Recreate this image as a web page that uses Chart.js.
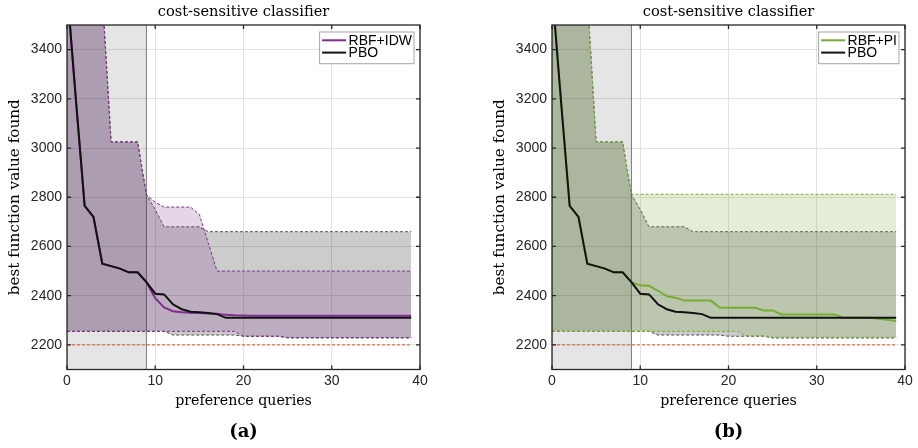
<!DOCTYPE html>
<html>
<head>
<meta charset="utf-8">
<script src="https://cdn.jsdelivr.net/npm/chart.js@4.4.1/dist/chart.umd.min.js"></script>
<style>
  html, body { margin: 0; padding: 0; background: #fff; }
  #wrap { position: relative; width: 918px; height: 448px; overflow: hidden; }
  canvas { position: absolute; top: 0; }
</style>
</head>
<body>
<div id="wrap">
  <canvas id="chartA" width="485" height="448" style="left:0px"></canvas>
  <canvas id="chartB" width="433" height="448" style="left:485px"></canvas>
</div>
<script>
// preference queries (x)
const queries = [0, 1, 2, 3, 4, 5, 6, 7, 8, 9, 10, 11, 12, 13, 14, 15, 16, 17, 18, 19,
                 20, 21, 22, 23, 24, 25, 26, 27, 28, 29, 30, 31, 32, 33, 34, 35, 36, 37, 38, 39];
const xTicks = [0, 10, 20, 30, 40];
const yTicks = [2200, 2400, 2600, 2800, 3000, 3200, 3400];
const optimum = 2200;
const initQueries = 9;

// PBO (same in both panels)
const pboMean = [3650, 3200, 2765, 2720, 2530, 2520, 2510, 2495, 2495, 2455,
                 2408, 2405, 2365, 2345, 2335, 2333, 2330, 2325, 2310, 2310,
                 2310, 2310, 2310, 2310, 2310, 2310, 2310, 2310, 2310, 2310,
                 2310, 2310, 2310, 2310, 2310, 2310, 2310, 2310, 2310, 2310];
const pboUpper = [4200, 4200, 4200, 4200, 3620, 3025, 3025, 3025, 3025, 2810,
                  2750, 2680, 2680, 2680, 2680, 2680, 2660, 2660, 2660, 2660,
                  2660, 2660, 2660, 2660, 2660, 2660, 2660, 2660, 2660, 2660,
                  2660, 2660, 2660, 2660, 2660, 2660, 2660, 2660, 2660, 2660];
const pboLower = [2255, 2255, 2255, 2255, 2255, 2255, 2255, 2255, 2255, 2255,
                  2255, 2255, 2240, 2240, 2240, 2240, 2240, 2240, 2240, 2240,
                  2235, 2235, 2235, 2235, 2235, 2228, 2228, 2228, 2228, 2228,
                  2228, 2228, 2228, 2228, 2228, 2228, 2228, 2228, 2228, 2228];

// RBF+IDW (panel a)
const idwMean = [3650, 3200, 2765, 2720, 2530, 2520, 2510, 2495, 2495, 2455,
                 2390, 2352, 2337, 2333, 2331, 2330, 2328, 2327, 2322, 2320,
                 2319, 2318, 2318, 2318, 2318, 2318, 2318, 2318, 2318, 2318,
                 2318, 2318, 2318, 2318, 2318, 2318, 2318, 2318, 2318, 2318];
const idwUpper = [4200, 4200, 4200, 4200, 3620, 3025, 3025, 3025, 3025, 2810,
                  2780, 2760, 2760, 2760, 2760, 2730, 2615, 2500, 2500, 2500,
                  2500, 2500, 2500, 2500, 2500, 2500, 2500, 2500, 2500, 2500,
                  2500, 2500, 2500, 2500, 2500, 2500, 2500, 2500, 2500, 2500];
const idwLower = [2255, 2255, 2255, 2255, 2255, 2255, 2255, 2255, 2255, 2255,
                  2255, 2255, 2255, 2255, 2255, 2255, 2255, 2255, 2255, 2255,
                  2235, 2235, 2235, 2235, 2235, 2230, 2230, 2230, 2230, 2230,
                  2230, 2230, 2230, 2230, 2230, 2230, 2230, 2230, 2230, 2230];

// RBF+PI (panel b)
const piMean = [3650, 3200, 2765, 2720, 2530, 2520, 2510, 2495, 2495, 2455,
                2442, 2440, 2420, 2398, 2392, 2380, 2380, 2380, 2380, 2352,
                2351, 2351, 2351, 2351, 2340, 2340, 2324, 2324, 2324, 2324,
                2324, 2324, 2324, 2310, 2310, 2310, 2310, 2306, 2302, 2297];
const piUpper = [4200, 4200, 4200, 4200, 3620, 3025, 3025, 3025, 3025, 2812,
                 2812, 2812, 2812, 2812, 2812, 2812, 2812, 2812, 2812, 2812,
                 2812, 2812, 2812, 2812, 2812, 2812, 2812, 2812, 2812, 2812,
                 2812, 2812, 2812, 2812, 2812, 2812, 2812, 2812, 2812, 2812];
const piLower = [2255, 2255, 2255, 2255, 2255, 2255, 2255, 2255, 2255, 2255,
                 2255, 2255, 2255, 2255, 2255, 2255, 2255, 2255, 2255, 2255,
                 2255, 2255, 2237, 2237, 2237, 2231, 2231, 2231, 2231, 2231,
                 2231, 2231, 2231, 2231, 2231, 2231, 2231, 2231, 2231, 2231];

const SERIF = "'DejaVu Serif', serif";
const SANS = "'Liberation Sans', Arial, sans-serif";

function pts(arr) {
    return queries.map((q, i) => ({ x: q, y: arr[i] }));
}

// box around the axes with inside ticks, matlab style
const framePlugin = {
    id: 'frame',
    afterDatasetsDraw(chart) {
        const { ctx, chartArea: a, scales } = chart;
        ctx.save();
        ctx.strokeStyle = '#262626';
        ctx.lineWidth = 1.3;
        ctx.setLineDash([]);
        ctx.strokeRect(a.left, a.top, a.right - a.left, a.bottom - a.top);
        ctx.beginPath();
        xTicks.forEach(v => {
            const px = scales.x.getPixelForValue(v);
            ctx.moveTo(px, a.bottom); ctx.lineTo(px, a.bottom - 4);
            ctx.moveTo(px, a.top); ctx.lineTo(px, a.top + 4);
        });
        yTicks.forEach(v => {
            const py = scales.y.getPixelForValue(v);
            ctx.moveTo(a.left, py); ctx.lineTo(a.left + 4, py);
            ctx.moveTo(a.right, py); ctx.lineTo(a.right - 4, py);
        });
        ctx.stroke();
        ctx.restore();
    }
};

// legend box in the top right corner of the plot
const boxLegendPlugin = {
    id: 'boxLegend',
    afterDraw(chart, args, opts) {
        const { ctx, chartArea: a } = chart;
        const items = opts.items.map(i => chart.data.datasets[i]);
        ctx.save();
        ctx.font = '14px ' + SANS;
        const textW = Math.max(...items.map(d => ctx.measureText(d.label).width));
        const w = 2.5 + 24 + 2.5 + textW + 2;
        const h = 31.7;
        const left = a.right - 6 - w;
        const top = a.top + 7;
        ctx.fillStyle = '#fff';
        ctx.fillRect(left, top, w, h);
        ctx.strokeStyle = '#a6a6a6';
        ctx.lineWidth = 1;
        ctx.strokeRect(left, top, w, h);
        items.forEach((d, k) => {
            const cy = top + 8.3 + k * 12.3;
            ctx.strokeStyle = d.borderColor;
            ctx.lineWidth = 2;
            ctx.beginPath();
            ctx.moveTo(left + 2.5, cy);
            ctx.lineTo(left + 26.5, cy);
            ctx.stroke();
            ctx.fillStyle = '#000';
            ctx.textBaseline = 'middle';
            ctx.fillText(d.label, left + 29, cy + 0.5);
        });
        ctx.restore();
    }
};

function buildChart(id, opts) {
    const datasets = [
        { label: 'PBO', data: pts(pboMean), borderColor: '#111111', borderWidth: 2 },
        { label: opts.name, data: pts(opts.mean), borderColor: opts.color, borderWidth: 2 },
        {
            label: 'optimum', data: [{ x: 0, y: optimum }, { x: 39, y: optimum }],
            borderColor: 'rgb(217,83,25)', borderWidth: 1, borderDash: [3, 2]
        },
        {
            label: opts.name + ' max', data: pts(opts.upper), borderColor: opts.color,
            borderWidth: 1, borderDash: [3, 2], fill: '+1', backgroundColor: opts.fill
        },
        {
            label: opts.name + ' min', data: pts(opts.lower), borderColor: opts.color,
            borderWidth: 1, borderDash: [3, 2]
        },
        {
            label: 'PBO max', data: pts(pboUpper), borderColor: 'rgba(30,30,30,0.75)',
            borderWidth: 1, borderDash: [3, 2], fill: '+1', backgroundColor: 'rgba(0,0,0,0.2)'
        },
        {
            label: 'PBO min', data: pts(pboLower), borderColor: 'rgba(30,30,30,0.75)',
            borderWidth: 1, borderDash: [3, 2]
        },
        {
            label: 'init edge', data: [{ x: initQueries, y: 2100 }, { x: initQueries, y: 3500 }],
            borderColor: '#7a7a7a', borderWidth: 1
        },
        {
            label: 'init', data: [{ x: 0, y: 3500 }, { x: initQueries, y: 3500 }],
            borderColor: 'rgba(0,0,0,0)', borderWidth: 1, fill: 'start', backgroundColor: 'rgba(0,0,0,0.1)'
        }
    ];

    return new Chart(document.getElementById(id), {
        type: 'line',
        data: { datasets: datasets },
        plugins: [framePlugin, boxLegendPlugin],
        options: {
            responsive: false,
            animation: false,
            layout: { padding: { left: 0, right: opts.padRight, top: 0, bottom: 0 } },
            elements: {
                point: { radius: 0 },
                line: { tension: 0, fill: false }
            },
            plugins: {
                legend: { display: false },
                tooltip: { enabled: false },
                title: {
                    display: true,
                    text: 'cost-sensitive classifier',
                    fullSize: false,
                    color: '#000',
                    font: { family: SERIF, size: 14.6, weight: 'normal', lineHeight: 1 },
                    padding: { top: 5, bottom: 5.4 }
                },
                subtitle: {
                    display: true,
                    position: 'bottom',
                    text: opts.tag,
                    fullSize: false,
                    color: '#000',
                    font: { family: SERIF, size: 18, weight: 'bold', lineHeight: 1 },
                    padding: { top: 7, bottom: 7 }
                },
                boxLegend: { items: [1, 0] }
            },
            scales: {
                x: {
                    type: 'linear',
                    min: 0,
                    max: 40,
                    afterBuildTicks: s => { s.ticks = xTicks.map(v => ({ value: v })); },
                    afterFit: s => { s.height = 46.5; },
                    ticks: {
                        padding: 3, maxRotation: 0, color: '#262626',
                        font: { family: SANS, size: 14 },
                        callback: v => String(v)
                    },
                    grid: { color: '#e2e2e2', drawTicks: false },
                    border: { display: false },
                    title: {
                        display: true,
                        text: 'preference queries',
                        color: '#000',
                        font: { family: SERIF, size: 14.2 },
                        padding: { top: 0, bottom: 6.5 }
                    }
                },
                y: {
                    type: 'linear',
                    min: 2100,
                    max: 3500,
                    afterBuildTicks: s => { s.ticks = yTicks.map(v => ({ value: v })); },
                    afterFit: s => { s.width = 67; },
                    ticks: {
                        padding: 5, color: '#262626',
                        font: { family: SANS, size: 14 },
                        callback: v => String(v)
                    },
                    grid: { color: '#e2e2e2', drawTicks: false },
                    border: { display: false },
                    title: {
                        display: true,
                        text: 'best function value found',
                        color: '#000',
                        font: { family: SERIF, size: 15.2 },
                        padding: { top: 6, bottom: 0 }
                    }
                }
            }
        }
    });
}

buildChart('chartA', {
    name: 'RBF+IDW', tag: '(a)', padRight: 65,
    mean: idwMean, upper: idwUpper, lower: idwLower,
    color: 'rgb(126,47,142)', fill: 'rgba(126,47,142,0.2)'
});

buildChart('chartB', {
    name: 'RBF+PI', tag: '(b)', padRight: 13,
    mean: piMean, upper: piUpper, lower: piLower,
    color: 'rgb(119,172,48)', fill: 'rgba(119,172,48,0.2)'
});
</script>
</body>
</html>
